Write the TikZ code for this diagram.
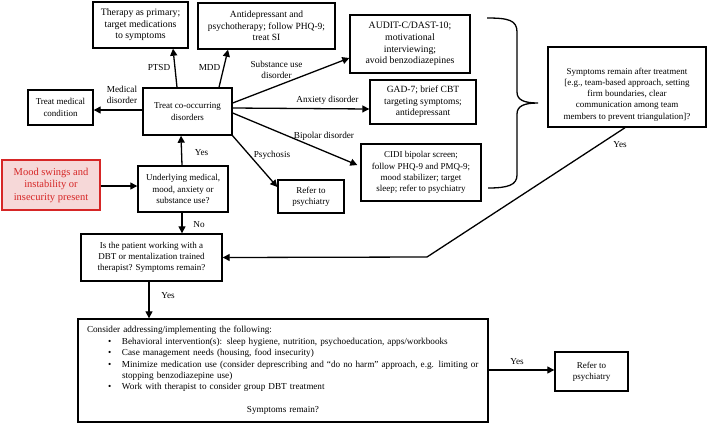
\documentclass[tikz,border=0pt]{standalone}
\usepackage{fontspec}
\setmainfont{Liberation Serif}
\usetikzlibrary{arrows.meta}
\definecolor{moodred}{RGB}{214,38,38}
\definecolor{moodfill}{RGB}{246,216,216}
\tikzset{
  box/.style={draw, line width=1.4pt, align=center, inner sep=2pt, font=\fontsize{9}{11.2}\selectfont},
  bigger/.style={font=\fontsize{9.8}{11.6}\selectfont},
  arr/.style={line width=1.3pt, -{Triangle[length=7pt,width=7pt]}},
  lbl/.style={font=\fontsize{9.2}{11}\selectfont, align=center, inner sep=1pt},
}
\begin{document}
\begin{tikzpicture}[x=1pt,y=-1pt]
\useasboundingbox (0,0) rectangle (708,424);

% boxes
\node[box, bigger, minimum width=95pt, minimum height=46pt] (therapy) at (140.5,25) {Therapy as primary;\\target medications\\to symptoms};
\node[box, font=\fontsize{9.5}{11.4}\selectfont, minimum width=137pt, minimum height=46pt] (antidep) at (266.5,26) {Antidepressant and\\psychotherapy; follow PHQ-9;\\treat SI};
\node[box, bigger, minimum width=120pt, minimum height=58pt] (audit) at (410,44) {AUDIT-C/DAST-10;\\motivational\\interviewing;\\avoid benzodiazepines};
\node[box, font=\fontsize{9.5}{11.4}\selectfont, minimum width=106pt, minimum height=44pt] (gad) at (423,102) {GAD-7; brief CBT\\targeting symptoms;\\antidepressant};
\node[box, minimum width=120pt, minimum height=57pt] (cidi) at (421,172.5) {CIDI bipolar screen;\\follow PHQ-9 and PMQ-9;\\mood stabilizer; target\\sleep; refer to psychiatry};
\node[box, minimum width=158pt, minimum height=80pt, inner ysep=1pt] (sympt) at (627,87) {\mbox{}\\[10pt]Symptoms remain after treatment\\{[e.g., team-based approach, setting}\\firm boundaries, clear\\communication among team\\members to prevent triangulation]?};
\node[box, minimum width=65pt, minimum height=35pt] (medical) at (60.5,107.5) {Treat medical\\condition};
\node[box, minimum width=89pt, minimum height=47pt] (treat) at (187.5,111.5) {Treat co-occurring\\disorders};
\node[box, draw=moodred, fill=moodfill, text=moodred, minimum width=98pt, minimum height=50pt, font=\fontsize{10.5}{12.5}\selectfont] (mood) at (51,185) {Mood swings and\\instability or\\insecurity present};
\node[box, minimum width=90pt, minimum height=46pt] (under) at (183,189) {Underlying medical,\\mood, anxiety or\\substance use?};
\node[box, minimum width=66pt, minimum height=33pt] (refer1) at (311,196.5) {Refer to\\psychiatry};
\node[box, minimum width=141pt, minimum height=47pt] (dbt) at (151.5,257.5) {Is the patient working with a\\DBT or mentalization trained\\therapist? Symptoms remain?};
\node[box, minimum width=410pt, minimum height=103pt, inner xsep=9pt, text width=392pt, align=left, font=\fontsize{9.2}{11.4}\selectfont] (big) at (283,370.5) {%
\mbox{Consider addressing/implementing the following:}\\
\mbox{\hspace*{21pt}\makebox[14pt][l]{\textbullet}Behavioral intervention(s): sleep hygiene, nutrition, psychoeducation, apps/workbooks}\\
\mbox{\hspace*{21pt}\makebox[14pt][l]{\textbullet}Case management needs (housing, food insecurity)}\\
\mbox{\hspace*{21pt}\makebox[14pt][l]{\textbullet}Minimize medication use (consider deprescribing and “do no harm” approach, e.g. limiting or}\\
\mbox{\hspace*{35pt}stopping benzodiazepine use)}\\
\mbox{\hspace*{21pt}\makebox[14pt][l]{\textbullet}Work with therapist to consider group DBT treatment}\\
\mbox{}\\
\makebox[392pt][c]{Symptoms remain?}};
\node[box, minimum width=73pt, minimum height=39pt] (refer2) at (591.5,371.5) {Refer to\\psychiatry};

% brace
\draw[line width=1.3pt] (487,18) .. controls (508,18) and (517,20) .. (517,32) -- (517,92)
  .. controls (517,100) and (524,103) .. (538,103)
  .. controls (524,103) and (517,106) .. (517,114) -- (517,175)
  .. controls (517,185) and (508,188) .. (488,188);

% connectors
\draw[arr] ([xshift=-10.5pt]treat.north) -- ([xshift=32.5pt]therapy.south);
\draw[arr] ([xshift=31.5pt]treat.north) -- ([xshift=-38.5pt]antidep.south);
\draw[arr] ([yshift=8.5pt]treat.east) -- ([yshift=-14pt]audit.west);
\draw[arr] ([yshift=3.5pt]treat.east) -- ([yshift=-7pt]gad.west);
\draw[arr] ([yshift=-1.5pt]treat.east) -- ([xshift=-3pt,yshift=7.5pt]cidi.west);
\draw[arr] ([xshift=-1pt,yshift=1pt]treat.south east) -- ([yshift=9.5pt]refer1.west);
\draw[arr] ([yshift=1.5pt]treat.west) -- ([yshift=-2.5pt]medical.east);
\draw[arr] ([yshift=-1pt]mood.east) -- ([yshift=3pt]under.west);
\draw[arr] ([xshift=-1pt]under.north) -- ([xshift=-6.5pt]treat.south);
\draw[arr] ([xshift=-1pt]under.south) -- ([xshift=30.5pt]dbt.north);
\coordinate (bend) at (427,257);
\draw[arr] ([xshift=-2pt]sympt.south) -- (bend) -- (dbt.east);
\draw[arr] ([xshift=-2.5pt]dbt.south) -- ([xshift=-134pt]big.north);
\draw[arr] ([yshift=0.5pt]big.east) -- ([yshift=1.5pt]refer2.west);

% labels
\node[lbl] (lptsd) at (159,67) {PTSD};
\node[lbl] (lmdd) at (209.5,67) {MDD};
\node[lbl] (lsub) at (276.5,70) {Substance use\\disorder};
\node[lbl] (lmed) at (122,95) {Medical\\disorder};
\node[lbl] (lanx) at (327.5,100) {Anxiety disorder};
\node[lbl] (lbip) at (324,136) {Bipolar disorder};
\node[lbl] (lpsy) at (272,155) {Psychosis};
\node[lbl] (lyes1) at (201.5,153) {Yes};
\node[lbl] (lno) at (199,225) {No};
\node[lbl] (lyes2) at (620,145) {Yes};
\node[lbl] (lyes3) at (168,296) {Yes};
\node[lbl] (lyes4) at (517,362) {Yes};
\end{tikzpicture}
\end{document}
